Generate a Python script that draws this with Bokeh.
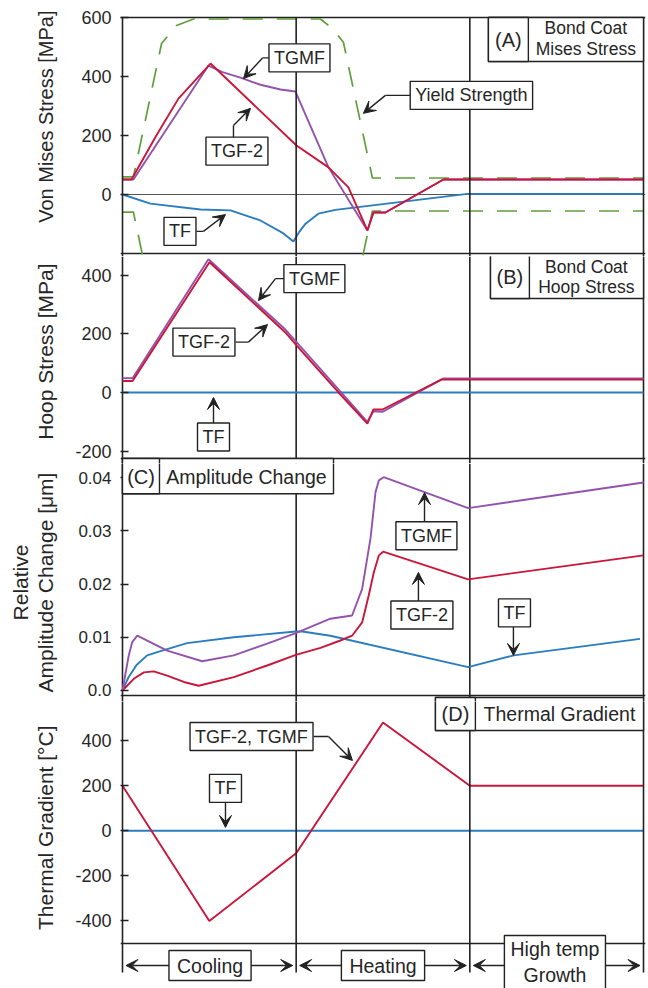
from bokeh.plotting import figure
from bokeh.layouts import column
from bokeh.models import (Range1d, FixedTicker, Span, Label, Arrow, VeeHead, Title,
                          BoxAnnotation, LinearAxis, CustomJSTickFormatter)
from bokeh.embed import file_html
from bokeh.resources import INLINE

# ---------------- data (x: 0-1 cooling, 1-2 heating, 2-3 high temp growth) ----
phase_edges = [0, 1, 2, 3]
phase_centers = [0.5, 1.5, 2.5]
phase_names = ["Cooling", "Heating", "High temp\nGrowth"]

# (A) bond coat von Mises stress [MPa]
a_t_tgf2 = [0, 0.052, 0.19, 0.322, 0.507, 1.002, 1.186, 1.301, 1.41, 1.445, 1.514, 1.848, 3.0]
a_v_tgf2 = [51, 51, 195, 325, 444, 166, 92, 24, -122, -61, -61, 51, 51]
a_t_tgmf = [0, 0.063, 0.495, 0.576, 0.679, 0.794, 0.91, 0.996, 1.186, 1.41, 1.445, 1.514, 1.848, 3.0]
a_v_tgmf = [51, 51, 437, 415, 396, 372, 356, 349, 92, -122, -61, -61, 51, 51]
a_t_tf = [0, 0.161, 0.449, 0.622, 0.794, 0.927, 0.984, 1.02, 1.054, 1.128, 1.226, 1.986, 3.0]
a_v_tf = [0, -31, -51, -54, -88, -132, -159, -125, -99, -65, -52, 2, 2]
a_t_yield = [0, 0.063, 0.225, 0.311, 0.409, 1.14, 1.215, 1.272, 1.439, 3.0]
a_v_yield = [60, 60, 512, 573, 595, 595, 559, 516, 56, 56]

# (B) bond coat hoop stress [MPa]
b_t_tgf2 = [0, 0.058, 0.501, 0.938, 1.002, 1.244, 1.41, 1.445, 1.497, 1.836, 3.0]
b_v_tgf2 = [39, 39, 445, 205, 161, 0, -106, -58, -58, 44, 44]
b_t_tgmf = [0, 0.058, 0.495, 0.938, 1.002, 1.25, 1.41, 1.445, 1.497, 1.848, 3.0]
b_v_tgmf = [49, 49, 455, 215, 172, 6, -100, -64, -66, 48, 48]
b_t_tf = [0, 3.0]
b_v_tf = [0, 0]

# (C) relative amplitude change [um]
c_t_tgmf = [0, 0.036, 0.056, 0.085, 0.257, 0.459, 0.641, 0.833, 0.998, 1.197, 1.322,
            1.380, 1.428, 1.457, 1.476, 1.504, 1.990, 3.0]
c_v_tgmf = [0, 0.0066, 0.0091, 0.0103, 0.0075, 0.0055, 0.0066, 0.0088, 0.0108, 0.0135, 0.0141,
            0.0191, 0.0286, 0.0373, 0.0395, 0.0401, 0.0343, 0.0391]
c_t_tgf2 = [0, 0.065, 0.123, 0.180, 0.257, 0.353, 0.439, 0.641, 0.833, 0.998, 1.140, 1.255,
            1.322, 1.380, 1.418, 1.447, 1.476, 1.501, 1.990, 3.0]
c_v_tgf2 = [0, 0.0022, 0.0034, 0.0036, 0.0028, 0.0016, 0.0009, 0.0025, 0.0047, 0.0067, 0.0080,
            0.0094, 0.0103, 0.0128, 0.0179, 0.0222, 0.0254, 0.0261, 0.0209, 0.0254]
c_t_tf = [0, 0.035, 0.081, 0.142, 0.219, 0.372, 0.641, 0.998, 1.035, 1.197, 1.990, 2.253, 2.98]
c_v_tf = [0, 0.0025, 0.0048, 0.0066, 0.0074, 0.0089, 0.0100, 0.0111, 0.0111, 0.0103, 0.0044,
          0.0066, 0.0097]

# (D) thermal gradient [C]
d_t_tgf = [0, 0.5, 1.0, 1.5, 2.0, 3.0]
d_v_tgf = [200, -400, -100, 480, 200, 200]
d_t_tf = [0, 3.0]
d_v_tf = [0, 0]

a_ticks = [0, 200, 400, 600]
b_ticks = [-200, 0, 200, 400]
c_ticks = [0, 0.01, 0.02, 0.03, 0.04]
d_ticks = [-400, -200, 0, 200, 400]

# ---------------- style ------------------------------------------------------
FONT = "Liberation Sans"
TXT = "#262626"
INK = "#222222"
RED = "#c8173a"
PURPLE = "#9353ad"
BLUE = "#2b7dbf"
GREEN = "#5e9f3c"
LW = 1.9
BW = 1.6
XR = (-0.0115, 3.0115)
INT_FMT = "return tick.toFixed(0);"


def panel(height, yr, ticks, top=0, fmt=INT_FMT, tick_size="18px"):
    p = figure(width=648, height=height, x_range=Range1d(*XR), y_range=Range1d(*yr),
               output_backend="svg", toolbar_location=None, x_axis_location=None,
               min_border_left=120, min_border_right=3,
               min_border_top=top, min_border_bottom=0)
    p.xgrid.visible = False
    p.ygrid.visible = False
    p.outline_line_color = None
    ax = p.yaxis[0]
    ax.ticker = FixedTicker(ticks=ticks)
    ax.formatter = CustomJSTickFormatter(code=fmt)
    ax.major_label_text_font = FONT
    ax.major_label_text_font_size = tick_size
    ax.major_label_text_color = TXT
    ax.major_label_standoff = 9
    ax.major_tick_in = 8
    ax.major_tick_out = 0
    ax.major_tick_line_color = INK
    ax.major_tick_line_width = 1.3
    ax.minor_tick_line_color = None
    ax.axis_line_color = None
    return p


def side_title(p, text, offset, standoff, size="21px"):
    p.add_layout(Title(text=text, align="right", offset=offset, standoff=standoff,
                       text_font=FONT, text_font_size=size, text_font_style="normal",
                       text_color=TXT), "left")


def axis_title(ax, text, standoff, size="21px"):
    ax.axis_label = text
    ax.axis_label_text_font = FONT
    ax.axis_label_text_font_size = size
    ax.axis_label_text_font_style = "normal"
    ax.axis_label_text_color = TXT
    ax.axis_label_standoff = standoff


def hline(p, y):
    p.add_layout(Span(location=y, dimension="width", line_color=INK, line_width=BW,
                      level="underlay"))


def vspans(p):
    for k in phase_edges:
        p.add_layout(Span(location=k, dimension="height", line_color=INK, line_width=BW,
                          level="underlay"))


def vsegs(p, y0, y1):
    for k in phase_edges:
        p.add_layout(Arrow(start=None, end=None, x_start=k, y_start=y0, x_end=k, y_end=y1,
                           line_color=INK, line_width=BW))


def box_label(p, x, y, text, size="18px", pad=(5, 4)):
    # pad = (horizontal, vertical)
    p.add_layout(Label(x=x, y=y, text=text, text_align="center", text_baseline="middle",
                       text_font=FONT, text_font_size=size, text_color=TXT,
                       border_line_color=INK, border_line_width=1.4,
                       background_fill_color="white", background_fill_alpha=1.0,
                       padding=pad))


def plain_label(p, x, y, text, size="18px"):
    p.add_layout(Label(x=x, y=y, text=text, text_align="center", text_baseline="middle",
                       text_font=FONT, text_font_size=size, text_color=TXT))


def leader(p, pts):
    for (x0, y0), (x1, y1) in zip(pts[:-2], pts[1:-1]):
        p.add_layout(Arrow(end=None, x_start=x0, y_start=y0, x_end=x1, y_end=y1,
                           line_color=INK, line_width=1.4))
    (x0, y0), (x1, y1) = pts[-2], pts[-1]
    p.add_layout(Arrow(end=VeeHead(size=12, fill_color=INK, line_color=INK, line_width=1),
                       x_start=x0, y_start=y0, x_end=x1, y_end=y1,
                       line_color=INK, line_width=1.4))


def cell_boxes(p, left, mid, right, bottom, top):
    for r in (right, mid):
        if r is None:
            continue
        p.add_layout(BoxAnnotation(left=left, right=r, bottom=bottom, top=top,
                                   fill_color="white", fill_alpha=1.0, line_color=INK,
                                   line_width=1.4, line_alpha=1.0))


# ---------------- (A) --------------------------------------------------------
pA = panel(256, (-210.2, 606.8), a_ticks, top=15)
side_title(pA, "Von Mises Stress [MPa]", -5, 44, "20px")
pA.add_layout(Span(location=0, dimension="width", line_color="#555555",
                   line_width=1.2, level="underlay"))
vsegs(pA, 600, -215)
hline(pA, 600)
hline(pA, -200)
pA.line(a_t_yield, a_v_yield, line_color=GREEN, line_width=1.7, line_dash="20 14")
pA.line(a_t_yield, [-v for v in a_v_yield], line_color=GREEN, line_width=1.7, line_dash="20 14")
pA.line(a_t_tf, a_v_tf, line_color=BLUE, line_width=LW)
pA.line(a_t_tgmf, a_v_tgmf, line_color=PURPLE, line_width=LW)
pA.line(a_t_tgf2, a_v_tgf2, line_color=RED, line_width=LW)
leader(pA, [(0.852, 463), (0.806, 463), (0.697, 393)])
box_label(pA, 1.019, 463, "TGMF")
leader(pA, [(0.639, 190), (0.639, 234), (0.737, 292)])
box_label(pA, 0.659, 147, "TGF-2")
leader(pA, [(0.426, -125), (0.466, -125), (0.593, -68)])
box_label(pA, 0.331, -125, "TF")
leader(pA, [(1.658, 336), (1.514, 336), (1.387, 275)])
box_label(pA, 2.009, 336, "Yield Strength")
cell_boxes(pA, 2.107, 2.337, 3.0, 451, 600)
plain_label(pA, 2.222, 525, "(A)", "20px")
plain_label(pA, 2.668, 566, "Bond Coat", "17.5px")
plain_label(pA, 2.668, 492, "Mises Stress", "17.5px")

# ---------------- (B) --------------------------------------------------------
pB = panel(207, (-242.5, 464.4), b_ticks)
side_title(pB, "Hoop Stress [MPa]", 7, 32)
vspans(pB)
hline(pB, -225.4)
pB.line(b_t_tf, b_v_tf, line_color=BLUE, line_width=LW)
pB.line(b_t_tgmf, b_v_tgmf, line_color=PURPLE, line_width=LW)
pB.line(b_t_tgf2, b_v_tgf2, line_color=RED, line_width=LW)
leader(pB, [(0.938, 389), (0.881, 389), (0.783, 314)])
box_label(pB, 1.105, 389, "TGMF")
leader(pB, [(0.651, 172), (0.725, 172), (0.835, 232)])
box_label(pB, 0.469, 172, "TGF-2")
leader(pB, [(0.524, -106), (0.524, -17)])
box_label(pB, 0.524, -152, "TF")
cell_boxes(pB, 2.119, 2.343, 3.0, 321, 471)
plain_label(pB, 2.231, 396, "(B)", "20px")
plain_label(pB, 2.671, 430, "Bond Coat", "17.5px")
plain_label(pB, 2.671, 359, "Hoop Stress", "17.5px")
cell_boxes(pB, 0.0, 0.213, 1.215, -400, -225.4)   # top of the (C) title box

# ---------------- (C) --------------------------------------------------------
pC = panel(238, (-0.00207, 0.04268), c_ticks, tick_size="17px",
           fmt="return tick == 0 ? '0.0' : tick.toFixed(2);")
axis_title(pC.yaxis[0], "Amplitude Change [\u03bcm]", 18)
extra = LinearAxis(ticker=FixedTicker(ticks=[]), axis_line_color=None,
                   major_tick_line_color=None, minor_tick_line_color=None,
                   major_label_text_font_size="0px")
axis_title(extra, "Relative", 0)
pC.add_layout(extra, "left")
vspans(pC)
hline(pC, -0.00094)
pC.line(c_t_tf, c_v_tf, line_color=BLUE, line_width=LW)
pC.line(c_t_tgf2, c_v_tgf2, line_color=RED, line_width=LW)
pC.line(c_t_tgmf, c_v_tgmf, line_color=PURPLE, line_width=LW)
cell_boxes(pC, 0.0, 0.213, 1.215, 0.0370, 0.0436)
plain_label(pC, 0.107, 0.0402, "(C)", "20px")
plain_label(pC, 0.714, 0.0402, "Amplitude Change", "19.5px")
leader(pC, [(1.739, 0.0316), (1.739, 0.0372)])
box_label(pC, 1.750, 0.0291, "TGMF")
leader(pC, [(1.704, 0.0167), (1.704, 0.0222)])
box_label(pC, 1.724, 0.0142, "TGF-2")
leader(pC, [(2.251, 0.0120), (2.251, 0.0066)])
box_label(pC, 2.257, 0.0146, "TF")
cell_boxes(pC, 1.802, 2.032, 3.0, -0.01, -0.00132)   # top of the (D) title box

# ---------------- (D) + phase strip -----------------------------------------
pD = panel(287, (-699.4, 573.4), d_ticks)
side_title(pD, "Thermal Gradient [\u00b0C]", 24, 32)
vsegs(pD, 580, -628.4)
hline(pD, -499.8)
pD.line(d_t_tf, d_v_tf, line_color=BLUE, line_width=LW)
pD.line(d_t_tgf, d_v_tgf, line_color=RED, line_width=LW)
cell_boxes(pD, 1.802, 2.032, 3.0, 445, 591)
plain_label(pD, 1.917, 518, "(D)", "20px")
plain_label(pD, 2.516, 518, "Thermal Gradient", "19.5px")
leader(pD, [(1.10, 418), (1.186, 418), (1.324, 312)])
box_label(pD, 0.743, 418, "TGF-2, TGMF")
leader(pD, [(0.593, 131), (0.593, 15)])
box_label(pD, 0.593, 188, "TF")

for i in range(3):
    pD.add_layout(Arrow(start=VeeHead(size=12, fill_color=INK, line_color=INK, line_width=1),
                        end=VeeHead(size=12, fill_color=INK, line_color=INK, line_width=1),
                        x_start=phase_edges[i] + 0.02, y_start=-597.4,
                        x_end=phase_edges[i + 1] - 0.02, y_end=-597.4,
                        line_color=INK, line_width=1.4))
box_label(pD, phase_centers[0] + 0.004, -597.4, phase_names[0], "19.5px", (8, 4))
box_label(pD, phase_centers[1], -597.4, phase_names[1], "19.5px", (8, 4))
cell_boxes(pD, 2.199, None, 2.781, -760, -464.3)
plain_label(pD, phase_centers[2] - 0.01, -582, phase_names[2], "19.5px")

layout = column(pA, pB, pC, pD, spacing=0)
open("out.html", "w").write(file_html(layout, INLINE))
